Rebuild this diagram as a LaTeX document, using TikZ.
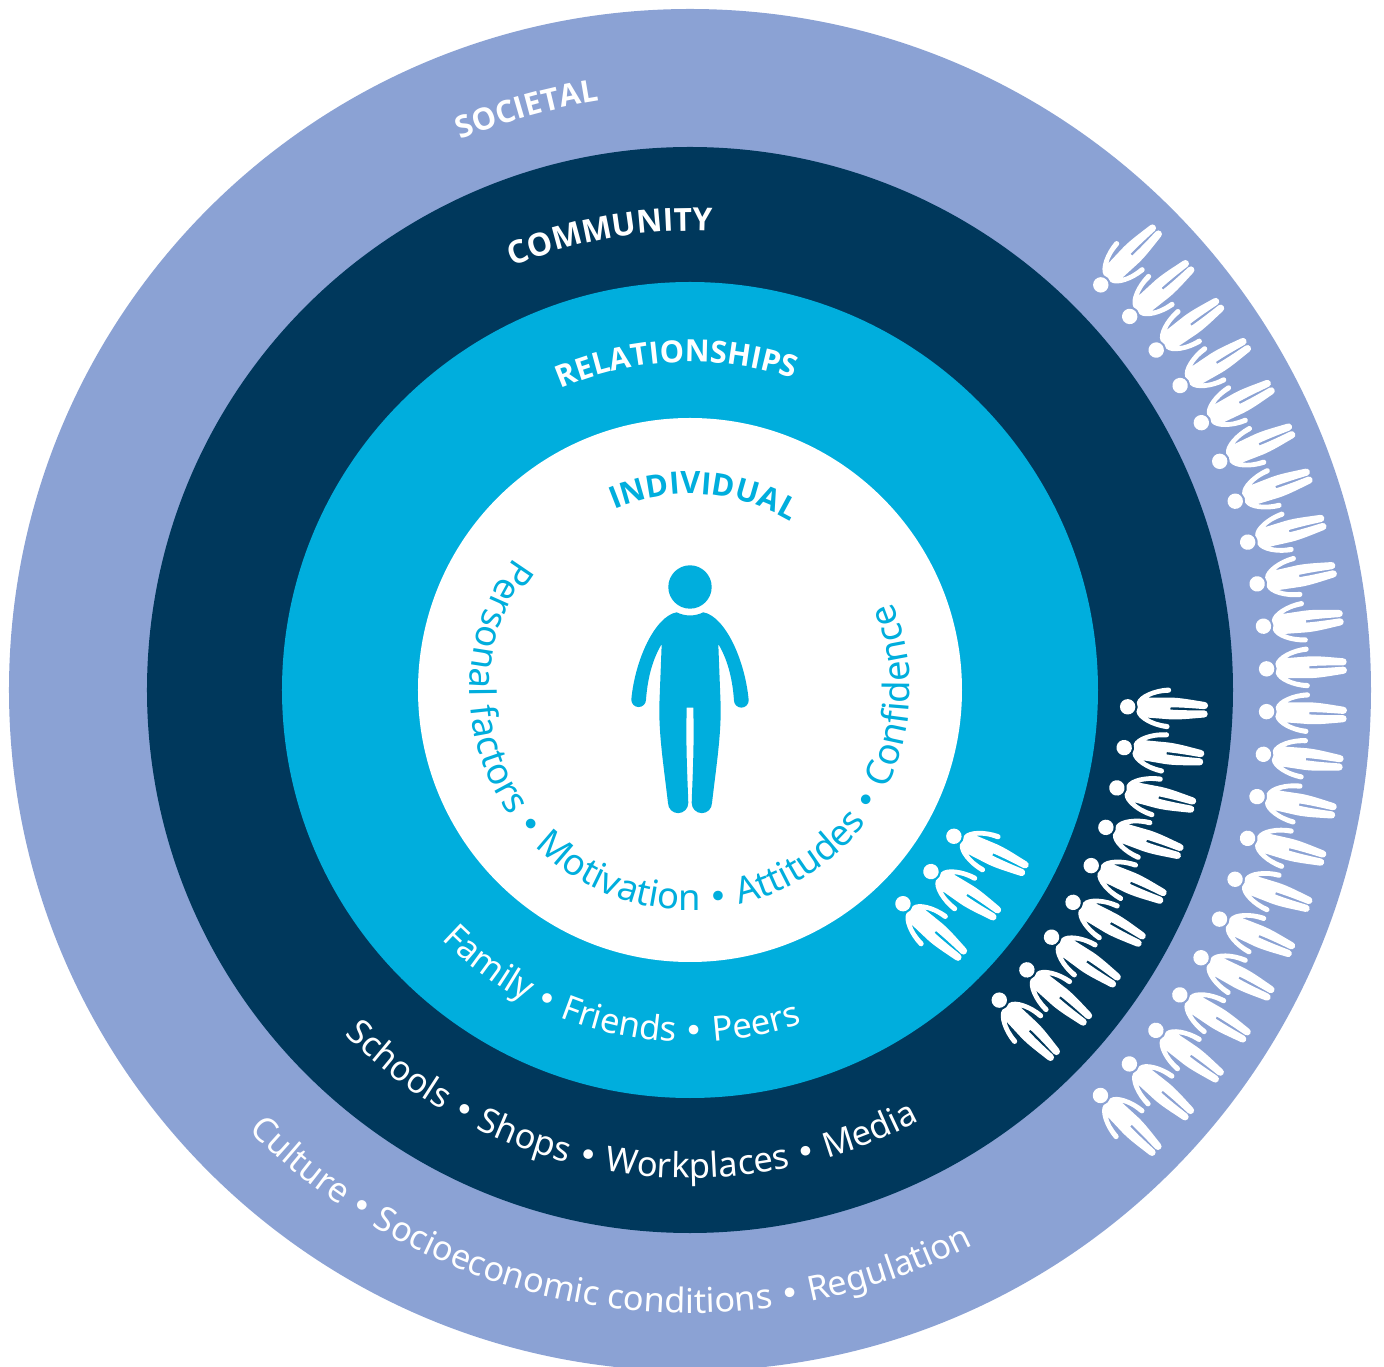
\documentclass[tikz,border=0pt]{standalone}
\usepackage{fontspec}
\setmainfont{Noto Sans}
\newfontfamily\capfam{Open Sans}
\newfontfamily\bulfam{DejaVu Sans}
\usetikzlibrary{decorations.text}
\definecolor{societal}{HTML}{8BA2D4}
\definecolor{community}{HTML}{00385C}
\definecolor{relation}{HTML}{00AEDD}
\tikzset{
  person/.pic={
    \fill (0,0) circle[radius=21.7];
    \fill (-13.3,-25.3) .. controls (-5,-29.5) and (5,-29.5) .. (13.3,-25.3)
      .. controls (35,-29.3) and (55,-72.7) .. (58.7,-113.3)
      arc (0:-180:7.35)
      .. controls (42.3,-89.3) and (36.7,-71) .. (28.3,-57)
      -- (30.7,-119.3)
      .. controls (31,-149.3) and (26.7,-176) .. (22,-216)
      arc (0:-180:10.15)
      .. controls (2.5,-190) and (4.3,-162) .. (3.3,-120.7)
      -- (-3.3,-120.7)
      .. controls (-4.3,-162) and (-2.5,-190) .. (-1.7,-216)
      arc (0:-180:10.15)
      .. controls (-26.7,-176) and (-31,-149.3) .. (-30.7,-119.3)
      -- (-28.3,-57)
      .. controls (-36.7,-71) and (-42.3,-89.3) .. (-44,-112.7)
      arc (0:-180:7.35)
      .. controls (-55,-72.7) and (-35,-29.3) .. (-13.3,-25.3)
      -- cycle;
  },
  ringlabel/.style={decorate, decoration={text along path, text align=center, text={#1}}}
}
\newcommand{\capfont}[2]{\color{#1}\capfam\fontsize{#2}{#2}\selectfont\bfseries}
\newcommand{\bodyfont}[2]{\color{#1}\fontsize{#2}{#2}\selectfont}
\newcommand{\bul}[1]{\color{#1}\bulfam\fontsize{33}{33}\selectfont}
\begin{document}
\begin{tikzpicture}[x=1pt,y=1pt]
\useasboundingbox (-690,-677) rectangle (694,690);
\begin{scope}
\clip (-690,-677) rectangle (694,690);
\fill[societal] (0,0) circle[radius=681];
\fill[community] (0,0) circle[radius=543];
\fill[relation] (0,0) circle[radius=408];
\fill[white] (0,0) circle[radius=272];
\end{scope}
% people
\pic[relation,scale=1] at (0,103) {person};
\foreach \i in {0,...,21}{
  \pgfmathsetmacro\t{44.6-4.25*\i}
  \pic[white,rotate=\t+90,scale=.355] at (\t:577pt) {person};
}
\foreach \i in {0,...,8}{
  \pgfmathsetmacro\t{-2.2-5.36*\i}
  \pic[white,rotate=\t+90,scale=.355] at (\t:438pt) {person};
}
\foreach \t in {-29,-37,-45.1}{
  \pic[white,rotate=\t+94,scale=.355] at (\t:301.7pt) {person};
}
% top labels
\path[ringlabel={|\capfont{white}{30.6}|SOCIETAL}] (145.7:596pt) arc (145.7:65.7:596pt);
\path[ringlabel={|\capfont{white}{31.8}|COMMUNITY}] (140:459pt) arc (140:60:459pt);
\path[ringlabel={|\capfont{white}{30.6}|RELATIONSHIPS}] (142.4:328pt) arc (142.4:42.4:328pt);
\path[ringlabel={|\capfont{relation}{30.8}|INDIVIDUAL}] (146:196pt) arc (146:26:196pt);
% bottom labels
\path[ringlabel={|\bodyfont{white}{34.2}|Culture |\bul{white}|•|\bodyfont{white}{34.2}| Socioeconomic conditions |\bul{white}|•|\bodyfont{white}{34.2}| Regulation}] (201:623pt) arc (201:321:623pt);
\path[ringlabel={|\bodyfont{white}{34.5}|Schools |\bul{white}|•|\bodyfont{white}{34.5}| Shops |\bul{white}|•|\bodyfont{white}{34.5}| Workplaces |\bul{white}|•|\bodyfont{white}{34.5}| Media}] (191.5:488pt) arc (191.5:331.5:488pt);
\path[ringlabel={|\bodyfont{white}{34.5}|Family |\bul{white}|•|\bodyfont{white}{34.5}| Friends |\bul{white}|•|\bodyfont{white}{34.5}| Peers}] (186.8:352pt) arc (186.8:326.8:352pt);
\path[ringlabel={|\bodyfont{relation}{36.4}|Personal factors |\bul{relation}|•|\bodyfont{relation}{36.4}| Motivation |\bul{relation}|•|\bodyfont{relation}{36.4}| Attitudes |\bul{relation}|•|\bodyfont{relation}{36.4}| Confidence}] (103.2:220pt) arc (103.2:423.2:220pt);
\end{tikzpicture}
\end{document}
